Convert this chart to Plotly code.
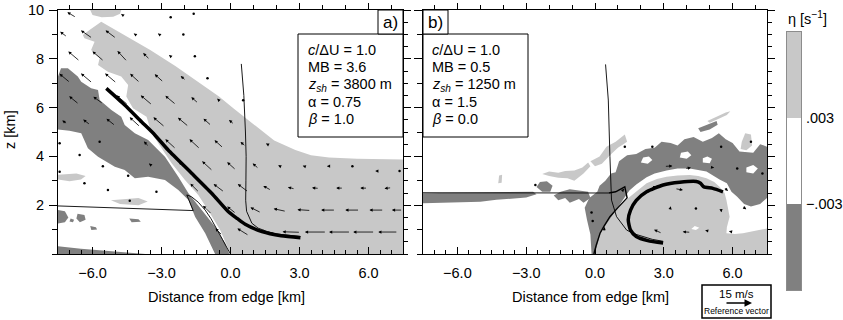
import plotly.graph_objects as go

W, H = 843, 320
LIGHT = "#c8c8c8"
DARK = "#808080"
FONT = "Liberation Sans, Arial, Helvetica, sans-serif"

# ---------------- axes / ticks ----------------
X_RANGE = [-7.5, 7.5]
Z_RANGE = [0, 10]
X_TICKS = [-6, -3, 0, 3, 6]
X_TICK_LABELS = ["\u22126.0", "\u22123.0", "0.0", "3.0", "6.0"]
Z_TICKS = [2, 4, 6, 8, 10]
Z_TICK_LABELS = ["2", "4", "6", "8", "10"]

PARAMS_A = ["<i>c</i>/\u0394U = 1.0", "MB = 3.6", "<i>z</i><sub><i>sh</i></sub> = 3800 m", "\u03b1 = 0.75", "<i>\u03b2</i> = 1.0"]
PARAMS_B = ["<i>c</i>/\u0394U = 1.0", "MB = 0.5", "<i>z</i><sub><i>sh</i></sub> = 1250 m", "\u03b1 = 1.5", "<i>\u03b2</i> = 0.0"]

# colorbar classes (eta thresholds)
CB_CLASS = [0, 1, 2]
CB_TICKS = [1, 2]
CB_TICK_LABELS = ["\u2212.003", ".003"]

# ---------------- panel a shading (km, km) ----------------
A_LIGHT_MAIN = [(-5.62, 9.52), (-4.6, 8.95), (-3.49, 8.36), (-2.4, 7.7), (-1.31, 6.99), (-0.5, 6.45),
                (0.15, 5.95), (0.75, 5.5), (1.35, 5.05), (1.9, 4.65), (2.82, 4.26), (3.5, 4.05),
                (4.28, 3.95), (5.5, 3.9), (7.5, 3.87), (7.5, 0), (0, 0), (-0.16, 0.37), (-0.45, 0.98),
                (-0.89, 1.67), (-1.40, 2.42), (-1.98, 3.03), (-2.56, 3.72), (-3.14, 4.54), (-3.45, 5.0),
                (-3.65, 5.63), (-4.24, 5.97), (-4.53, 6.45), (-4.45, 6.93), (-4.75, 7.27), (-5.33, 7.47),
                (-5.76, 7.75), (-5.69, 8.02), (-6.06, 8.36), (-5.91, 8.70), (-6.35, 8.84), (-6.42, 8.98),
                (-6.13, 9.18)]
A_LIGHT_TOP = [(-6.1, 10), (-6.0, 9.8), (-5.6, 9.7), (-5.1, 9.72), (-4.8, 9.85), (-4.75, 10)]
A_LIGHT_P1 = [(-7.5, 3.05), (-7.0, 2.98), (-6.5, 3.05), (-6.3, 3.2), (-6.7, 3.3), (-7.5, 3.25)]
A_LIGHT_P2 = [(-5.2, 2.2), (-4.8, 2.05), (-4.0, 2.0), (-3.6, 2.15), (-4.0, 2.3), (-4.8, 2.25)]
A_DARK_MAIN = [(-7.5, 7.27), (-7.37, 7.61), (-7.07, 7.61), (-6.64, 7.27), (-6.49, 7.06), (-6.06, 6.79),
               (-5.76, 6.72), (-5.69, 6.31), (-5.18, 5.9), (-4.75, 5.63), (-4.6, 5.29), (-4.16, 4.95),
               (-3.58, 4.67), (-2.85, 3.99), (-2.27, 3.17), (-1.83, 2.49), (-1.25, 1.80), (-0.67, 1.12),
               (-0.23, 0.44), (-0.05, 0), (-0.67, 0), (-1.10, 0.85), (-1.54, 1.53), (-1.83, 2.21),
               (-2.27, 2.62), (-2.85, 3.03), (-3.58, 3.17), (-4.16, 3.10), (-4.60, 3.44), (-5.03, 3.58),
               (-5.76, 3.99), (-6.20, 4.33), (-6.49, 4.95), (-7.0, 5.05), (-7.5, 5.1)]
A_DARK_BOTTOM = [(-7.5, 0), (-7.5, 0.32), (-6.5, 0.22), (-5.0, 0.1), (-3.7, 0)]
A_DARK_B1 = [(-7.5, 1.8), (-7.2, 1.75), (-7.05, 1.5), (-7.2, 1.3), (-7.5, 1.25)]
A_DARK_B2 = [(-6.65, 1.65), (-6.35, 1.6), (-6.3, 1.4), (-6.55, 1.3), (-6.7, 1.45)]
A_DARK_B3 = [(-4.4, 1.45), (-4.0, 1.42), (-3.9, 1.32), (-4.3, 1.3)]
A_DARK_B4 = [(-6.1, 1.15), (-5.85, 1.1), (-5.8, 1.0), (-6.05, 0.98)]
A_DARK_B5 = [(-6.95, 1.45), (-6.8, 1.4), (-6.85, 1.3), (-7.0, 1.33)]

# panel a lines
A_THICK = [(-5.40, 6.79), (-4.60, 6.11), (-3.87, 5.42), (-3.29, 4.88), (-2.71, 4.26), (-1.69, 3.31),
           (-0.82, 2.49), (-0.09, 1.73), (0.30, 1.45), (0.64, 1.22), (1.37, 0.92), (2.2, 0.75), (3.04, 0.67)]
A_THIN_V = [(0.47, 7.79), (0.58, 6.5), (0.65, 5.0), (0.68, 4.0), (0.67, 3.0), (0.66, 2.2), (0.7, 1.75),
            (0.8, 1.5), (0.93, 1.26), (1.2, 1.06), (1.6, 0.92), (2.0, 0.82), (2.5, 0.76), (3.04, 0.72)]
A_THIN_H = [(-7.5, 1.97), (-5.0, 1.9), (-3.0, 1.83), (-1.62, 1.78), (-1.9, 2.42), (-1.7, 2.35),
            (-1.4, 2.12), (-1.1, 1.8), (-0.85, 1.45), (-0.6, 1.05), (-0.35, 0.6), (-0.15, 0.25), (0.0, 0.0)]

# ---------------- panel b shading ----------------
B_LIGHT_DOME = [(0.0, 0), (0.05, 0.4), (0.22, 0.85), (0.5, 1.3), (0.80, 1.67), (1.15, 2.05), (1.52, 2.35),
                (1.9, 2.65), (2.25, 2.90), (2.7, 3.07), (3.12, 3.17), (3.6, 3.22), (4.13, 3.24), (4.5, 3.2),
                (4.86, 3.10), (5.2, 2.95), (5.43, 2.76), (5.65, 2.5), (5.73, 2.21), (5.87, 1.53),
                (5.75, 1.1), (5.73, 0.85), (6.1, 0.82), (6.45, 0.85), (7.0, 0.95), (7.5, 1.05), (7.5, 0)]
B_DARK_MAIN = [(-0.15, 0), (-0.2, 0.8), (-0.35, 1.4), (-0.45, 1.9), (-0.25, 2.3), (0.1, 2.55), (0.2, 2.8),
               (0.45, 3.0), (0.7, 3.3), (0.9, 3.35), (1.05, 3.8), (1.4, 4.05), (1.8, 4.1), (2.2, 4.3),
               (2.6, 4.35), (2.9, 4.6), (3.3, 4.55), (3.6, 4.45), (3.9, 4.7), (4.3, 4.8), (4.7, 4.6),
               (5.1, 4.75), (5.4, 4.95), (5.7, 4.7), (6.0, 4.55), (6.3, 4.2), (6.9, 4.15), (7.2, 4.5),
               (7.5, 4.4), (7.5, 2.3), (7.2, 2.05), (6.8, 1.95), (6.5, 2.05), (6.2, 2.35), (5.95, 2.55),
               (5.75, 2.9), (5.43, 3.05), (4.86, 3.38), (4.13, 3.5), (3.6, 3.5), (3.12, 3.42), (2.6, 3.3),
               (2.25, 3.15), (1.8, 2.85), (1.5, 2.6), (1.2, 2.2), (0.8, 1.67), (0.22, 0.85), (0.0, 0)]
B_DARK_BAND = [(-7.5, 2.49), (-2.7, 2.55), (-2.55, 2.45), (-3.0, 2.32), (-4.3, 2.22), (-5.0, 2.14), (-7.5, 2.08)]
B_DARK_B1 = [(-2.55, 2.75), (-2.4, 2.95), (-2.1, 2.98), (-1.85, 2.8), (-1.95, 2.55), (-2.3, 2.55)]
B_DARK_B2 = [(-1.8, 2.4), (-1.5, 2.55), (-1.1, 2.65), (-0.7, 2.6), (-0.3, 2.55), (-0.2, 2.3), (-0.5, 2.1),
             (-0.7, 2.25), (-1.1, 2.1), (-1.3, 2.3), (-1.6, 2.2)]
B_DARK_WISP = [(4.5, 5.15), (4.9, 5.3), (5.3, 5.45), (5.35, 5.3), (5.0, 5.1), (4.6, 5.0)]
B_WHITE_H1 = [(2.0, 3.75), (2.3, 3.7), (2.5, 3.85), (2.35, 4.0), (2.1, 3.95)]
B_WHITE_H2 = [(3.7, 3.95), (4.0, 3.9), (4.2, 4.05), (4.05, 4.2), (3.75, 4.15)]
B_WHITE_H3 = [(4.7, 3.75), (5.0, 3.72), (5.1, 3.9), (4.9, 4.0), (4.7, 3.92)]
B_WHITE_H4 = [(6.6, 3.35), (6.9, 3.3), (7.1, 3.5), (6.9, 3.65), (6.6, 3.55)]
B_WHITE_H5 = [(4.2, 1.02), (4.4, 0.98), (4.55, 1.08), (4.35, 1.15)]
B_LIGHT_P1 = [(-4.22, 2.9), (-4.07, 2.92), (-4.05, 3.25), (-4.18, 3.22)]
B_LIGHT_P2 = [(-2.3, 3.28), (-2.0, 3.38), (-1.6, 3.33), (-1.3, 3.4), (-0.9, 3.42), (-0.55, 3.55), (-0.3, 3.75),
              (-0.2, 3.6), (-0.5, 3.3), (-0.9, 3.0), (-1.2, 3.1), (-1.6, 3.12), (-2.0, 3.2)]
B_LIGHT_P3 = [(-0.2, 3.8), (0.2, 4.0), (0.5, 4.4), (0.9, 4.6), (1.3, 4.9), (1.4, 4.6), (1.0, 4.35),
              (0.65, 4.05), (0.3, 3.7), (0.0, 3.6)]
B_LIGHT_P4 = [(6.35, 4.3), (6.6, 4.25), (6.85, 4.45), (6.8, 4.9), (6.55, 4.95), (6.4, 4.6)]
B_LIGHT_P5 = [(4.9, 5.45), (5.3, 5.62), (5.7, 5.8), (5.9, 5.85), (5.75, 5.7), (5.3, 5.5), (5.0, 5.38)]

# panel b lines
B_THIN_H = [(-7.5, 2.51), (-3.0, 2.52), (0.0, 2.5), (0.6, 2.5)]
B_FRONT = [(0.6, 2.5), (0.9, 2.55), (1.3, 2.75), (1.4, 2.3), (1.0, 1.9), (0.65, 1.53), (0.4, 1.15),
           (0.22, 0.85), (0.05, 0.35), (-0.05, 0)]
B_THIN_V = [(0.46, 7.77), (0.58, 6.31), (0.65, 4.0), (0.72, 2.21), (0.94, 1.53), (1.38, 0.98), (1.7, 0.83),
            (2.10, 0.71), (2.5, 0.6), (2.97, 0.52)]
B_THICK = [(2.97, 0.45), (2.3, 0.55), (1.8, 0.72), (1.55, 0.98), (1.45, 1.4), (1.55, 1.8), (1.8, 2.2),
           (2.25, 2.55), (2.97, 2.83), (3.70, 2.94), (4.42, 2.97), (4.6, 2.9), (4.75, 2.75), (5.14, 2.69), (5.58, 2.55)]

# ---------------- wind vectors (x km, z km, u m/s, w m/s) ----------------
ARROW_A_X = [-0.5, 0.55, 1.6, 2.65, 3.7, 4.75, 5.8, 6.85,
             -1.0, 0.05, 1.1, 2.15, 3.2, 4.25, 5.3, 6.35, 7.25,
             -1.55, -0.5, 0.55, 1.6, 2.65, 3.7, 4.75, 5.8, 6.85,
             -2.05, -1.0, 0.05, 1.1, 2.15, 3.2, 4.25, 5.3, 6.35, 7.35,
             -3.65, -2.6, -1.55, -0.5, 0.55, 1.6,
             -7.2, -6.25, -5.2, -4.15, -3.1, -2.05, -1.0, 0.05,
             -6.8, -5.75, -4.7, -3.65, -2.6, -1.55, -0.5, 0.55,
             -7.2, -6.25, -5.2, -4.15, -3.1, -2.05, -1.0,
             -6.8, -5.75, -4.7, -3.65, -2.6, -1.55,
             -7.25, -6.25, -5.2, -4.15, -3.1, -2.05,
             -6.9, -4.7, -2.6, -1.6,
             -7.43, -5.69, -6.56, -5.55, -4.45, -7.43, -6.35, -5.33, -4.38, -3.22, -3.47, -5.1]
ARROW_A_Z = [0.9, 0.9, 0.9, 0.9, 0.9, 0.9, 0.9, 0.9,
             1.8, 1.8, 1.8, 1.8, 1.8, 1.8, 1.8, 1.8, 1.8,
             2.7, 2.7, 2.7, 2.7, 2.7, 2.7, 2.7, 2.7, 2.7,
             3.6, 3.6, 3.6, 3.6, 3.6, 3.6, 3.6, 3.6, 3.4, 3.4,
             4.5, 4.5, 4.5, 4.5, 4.5, 4.5,
             5.4, 5.4, 5.4, 5.4, 5.4, 5.4, 5.4, 5.4,
             6.3, 6.3, 6.3, 6.3, 6.3, 6.3, 6.3, 6.3,
             7.2, 7.2, 7.2, 7.2, 7.2, 7.2, 7.2,
             8.1, 8.1, 8.1, 8.1, 8.1, 8.1,
             9.0, 9.0, 9.0, 9.0, 9.0, 9.0,
             9.8, 9.8, 9.7, 9.85,
             4.54, 4.6, 4.06, 3.6, 3.21, 3.37, 2.9, 2.62, 2.18, 2.55, 3.65, 4.55]
ARROW_A_U = [-4, -6.5, -8, -10, -12, -12, -12, -11,
             -5, -5, -6, -7, -7.5, -8, -8, -8, -6,
             -5, -6, -6, -4.5, -4, -4, -4, -4, -4,
             -5, -6, -5, -3.5, -2, -1.5, -1.5, 0, -1.5, 0,
             -3, -6, -6, -5, -3, -1.5,
             -3, -4, -5, -6, -6.5, -6, -4.5, -3,
             -5.5, -5.5, -6.5, -6.5, -6, -4, -2, 0,
             -6, -6.5, -6.5, -5.5, -5, -3, 0,
             -6.5, -6.5, -5.5, -3.8, -2, 0,
             -4, -6.5, -6, -1.5, -1.5, 0,
             -5, -1.5, 0, 0,
             0, 0, 0, 0, 0, 0, 0, 0, 0, 0, -2, -1]
ARROW_A_W = [4, 4, 1.5, 0.3, 0, 0, 0, 0,
             5, 4, 3, 1.5, 0.5, 0, 0, 0, 0,
             5, 4.5, 4.5, 2.5, 1, 0.3, 0, 0, -0.5,
             5, 5.5, 4.5, 3, 1, 0.5, 0, 0, 0, 0,
             3, 5.5, 5.5, 4.5, 2.5, 0.8,
             2, 3, 4, 5.5, 5.5, 5, 4, 2.5,
             4.5, 4, 5.5, 5.5, 5, 3.5, 2, 0,
             5, 5.5, 5.5, 5, 4.5, 2.5, 0,
             5.5, 5.5, 6, 3.7, 1.5, 0,
             3, 4.5, 4.5, 1, 1, 0,
             3, 1, 0, 0,
             0, 0, 0, 0, 0, 0, 0, 0, 0, 0, 1.5, 1]

ARROW_B_X = [0.4, 2.75, 4.0, 4.9, 5.9,
             3.29, 4.4, 5.5, 6.5,
             1.2, 2.5, 3.66, 5.7,
             3.2, 4.05, 5.1, 6.2, 7.3,
             1.3, 2.5, 5.5, -2.6, -0.15, -0.1, 6.8]
ARROW_B_Z = [1.0, 0.92, 0.9, 0.95, 0.92,
             1.9, 1.86, 1.8, 1.9,
             2.6, 2.7, 2.65, 2.67,
             3.6, 3.52, 3.55, 3.5, 3.3,
             4.4, 4.4, 4.4, 2.83, 1.7, 1.35, 4.6]
ARROW_B_U = [0.5, -4.5, -4.5, -2.5, -1.5,
             0.3, 0, 0.3, 2.5,
             2, 4.5, 4.5, 2.5,
             4.5, 3.5, 2.5, 0, 0,
             0, 0, 0, 0, 0, 0, 0]
ARROW_B_W = [3, 2, 0.3, 0.5, 0.3,
             1.5, 0, -2.5, -1.8,
             2, 2.3, -0.8, -2.5,
             0.3, 0.5, -0.3, 0, 0,
             0, 0, 0, 0, 0, 0, 0]

REF_SPEED = 15  # m/s
SX = 0.0775    # km of x per m/s
SZ = 0.073     # km of z per m/s


def px(x):
    return x / W


def py(y):
    return 1 - y / H


fig = go.Figure()


def poly(pts, color, xa, ya):
    xs = [p[0] for p in pts] + [pts[0][0]]
    zs = [p[1] for p in pts] + [pts[0][1]]
    fig.add_trace(go.Scatter(x=xs, y=zs, mode="lines", fill="toself", fillcolor=color,
                             line=dict(width=0, color=color), hoverinfo="skip",
                             showlegend=False, xaxis=xa, yaxis=ya))


def line(pts, width, xa, ya, smooth=True):
    ln = dict(width=width, color="black")
    if smooth:
        ln.update(shape="spline", smoothing=0.6)
    fig.add_trace(go.Scatter(x=[p[0] for p in pts], y=[p[1] for p in pts], mode="lines", line=ln,
                             hoverinfo="skip", showlegend=False, xaxis=xa, yaxis=ya))


# panel a
for pts, col in [(A_LIGHT_MAIN, LIGHT), (A_LIGHT_TOP, LIGHT), (A_LIGHT_P1, LIGHT), (A_LIGHT_P2, LIGHT),
                 (A_DARK_MAIN, DARK), (A_DARK_BOTTOM, DARK), (A_DARK_B1, DARK), (A_DARK_B2, DARK),
                 (A_DARK_B3, DARK), (A_DARK_B4, DARK), (A_DARK_B5, DARK)]:
    poly(pts, col, "x", "y")
line(A_THIN_H, 0.9, "x", "y", smooth=False)
line(A_THIN_V, 0.9, "x", "y", smooth=False)
line(A_THICK, 3.5, "x", "y")

# panel b
for pts, col in [(B_LIGHT_DOME, LIGHT), (B_DARK_MAIN, DARK), (B_DARK_BAND, DARK), (B_DARK_B1, DARK),
                 (B_DARK_B2, DARK), (B_DARK_WISP, DARK), (B_WHITE_H1, "white"), (B_WHITE_H2, "white"),
                 (B_WHITE_H3, "white"), (B_WHITE_H4, "white"), (B_WHITE_H5, "white"),
                 (B_LIGHT_P1, LIGHT), (B_LIGHT_P2, LIGHT), (B_LIGHT_P3, LIGHT), (B_LIGHT_P4, LIGHT),
                 (B_LIGHT_P5, LIGHT)]:
    poly(pts, col, "x2", "y2")
line(B_THIN_H, 0.9, "x2", "y2", smooth=False)
line(B_THIN_V, 0.9, "x2", "y2", smooth=False)
line(B_FRONT, 1.4, "x2", "y2", smooth=False)
line(B_THICK, 3.5, "x2", "y2")

annotations = []


def arrows(xs, zs, us, ws, xa, ya):
    dx, dz = [], []
    for x, z, u, w in zip(xs, zs, us, ws):
        if u == 0 and w == 0:
            dx.append(x)
            dz.append(z)
            continue
        annotations.append(dict(x=x + u * SX / 2, y=z + w * SZ / 2, ax=x - u * SX / 2, ay=z - w * SZ / 2,
                                xref=xa, yref=ya, axref=xa, ayref=ya, text="", showarrow=True,
                                arrowhead=2, arrowsize=0.8, arrowwidth=0.8, arrowcolor="black"))
    fig.add_trace(go.Scatter(x=dx, y=dz, mode="markers", marker=dict(size=2.5, color="black"),
                             hoverinfo="skip", showlegend=False, xaxis=xa, yaxis=ya))


arrows(ARROW_A_X, ARROW_A_Z, ARROW_A_U, ARROW_A_W, "x", "y")
arrows(ARROW_B_X, ARROW_B_Z, ARROW_B_U, ARROW_B_W, "x2", "y2")

# dummy traces for overlay axes (top / right ticks)
for xa, ya in [("x3", "y"), ("x", "y3"), ("x4", "y2"), ("x2", "y4")]:
    fig.add_trace(go.Scatter(x=[None], y=[None], mode="markers", showlegend=False, hoverinfo="skip",
                             xaxis=xa, yaxis=ya))

# colorbar as heatmap
fig.add_trace(go.Heatmap(z=[[c] for c in CB_CLASS], x=[0], y=[0.5, 1.5, 2.5], zmin=0, zmax=2,
                         colorscale=[[0, DARK], [0.333, DARK], [0.334, "white"], [0.666, "white"],
                                     [0.667, LIGHT], [1, LIGHT]],
                         showscale=False, hoverinfo="skip", xaxis="x5", yaxis="y5"))

tickfont = dict(size=14.5, color="black", family=FONT)
YDOM = [py(254), py(10)]
XDOM_A = [px(58), px(403)]
XDOM_B = [px(423), px(767)]


def main_x(dom, anchor):
    return dict(domain=dom, anchor=anchor, range=X_RANGE, tickmode="array", tickvals=X_TICKS,
                ticktext=X_TICK_LABELS, ticks="inside", ticklen=7, tickwidth=1, tickcolor="black",
                minor=dict(tickmode="linear", tick0=0, dtick=0.5, ticks="inside", ticklen=4,
                           tickcolor="black", showgrid=False),
                showline=True, linecolor="black", linewidth=1, mirror=True, showgrid=False,
                zeroline=False, tickfont=tickfont, fixedrange=True, ticklabelstandoff=6,
                automargin=False)


def main_y(anchor, labels):
    return dict(domain=YDOM, anchor=anchor, range=Z_RANGE, tickmode="array", tickvals=Z_TICKS,
                ticktext=Z_TICK_LABELS, showticklabels=labels, ticks="outside", ticklen=8,
                tickcolor="black", minor=dict(tickmode="linear", tick0=0, dtick=1, ticks="outside",
                                             ticklen=5, tickcolor="black", showgrid=False),
                showline=True, linecolor="black", linewidth=1, mirror=True, showgrid=False,
                zeroline=False, tickfont=tickfont, fixedrange=True, ticklabelstandoff=2,
                automargin=False)


def top_x(over, anchor):
    return dict(overlaying=over, anchor=anchor, side="top", range=X_RANGE, tickmode="array",
                tickvals=X_TICKS, ticks="outside", ticklen=6, tickcolor="black", showticklabels=False,
                minor=dict(tickmode="linear", tick0=0, dtick=1, ticks="outside", ticklen=4,
                           tickcolor="black", showgrid=False),
                showgrid=False, zeroline=False, showline=False, fixedrange=True, automargin=False)


def right_y(over, anchor):
    return dict(overlaying=over, anchor=anchor, side="right", range=Z_RANGE, tickmode="array",
                tickvals=Z_TICKS, ticks="outside", ticklen=7, tickcolor="black", showticklabels=False,
                minor=dict(tickmode="linear", tick0=0, dtick=0.5, ticks="outside", ticklen=4,
                           tickcolor="black", showgrid=False),
                showgrid=False, zeroline=False, showline=False, fixedrange=True, automargin=False)


shapes = []


def rect(x0, y0, x1, y1, lw=1):
    shapes.append(dict(type="rect", xref="paper", yref="paper", x0=px(x0), x1=px(x1), y0=py(y1), y1=py(y0),
                       line=dict(color="black", width=lw), fillcolor="white", layer="above"))


rect(298, 34, 403, 137)
rect(378, 10, 403, 34)
rect(423, 34, 528, 137)
rect(423, 10, 448, 34)
rect(702, 285, 771, 318, 1.5)


def text(x, y, s, size=14.5, xanchor="left", angle=0):
    annotations.append(dict(x=px(x), y=py(y), xref="paper", yref="paper", text=s, showarrow=False,
                            xanchor=xanchor, yanchor="middle", textangle=angle,
                            font=dict(size=size, color="black", family=FONT)))


for i, (ta, tb) in enumerate(zip(PARAMS_A, PARAMS_B)):
    yy = [50, 67, 85, 102, 119][i]
    text(306, yy, ta)
    text(430, yy, tb)
text(390.5, 22.5, "a)", size=17, xanchor="center")
text(435.5, 22.5, "b)", size=17, xanchor="center")
text(226, 297, "Distance from edge [km]", xanchor="center")
text(590, 297, "Distance from edge [km]", xanchor="center")
text(10, 130, "z [km]", xanchor="center", angle=-90)
text(807, 18, "\u03b7 [s<sup>\u22121</sup>]", xanchor="center")
text(736, 294, "%d m/s" % REF_SPEED, size=11.5, xanchor="center")
text(736, 311, "Reference vector", size=8.5, xanchor="center")
annotations.append(dict(x=px(752), y=py(303), xref="paper", yref="paper", ax=-27, ay=0, text="",
                        showarrow=True, arrowhead=2, arrowsize=1, arrowwidth=1.5, arrowcolor="black"))

fig.update_layout(
    width=W, height=H, margin=dict(l=0, r=0, t=0, b=0, autoexpand=False),
    paper_bgcolor="white", plot_bgcolor="white", showlegend=False,
    xaxis=main_x(XDOM_A, "y"), yaxis=main_y("x", True),
    xaxis2=main_x(XDOM_B, "y2"), yaxis2=dict(main_y("x2", False)),
    xaxis3=top_x("x", "y"), yaxis3=right_y("y", "x"),
    xaxis4=top_x("x2", "y2"), yaxis4=right_y("y2", "x2"),
    xaxis5=dict(domain=[px(787), px(801)], anchor="y5", range=[-0.5, 0.5], showticklabels=False,
                ticks="", showgrid=False, zeroline=False, showline=True, mirror=True,
                linecolor="#8c8c8c", linewidth=1, fixedrange=True, automargin=False),
    yaxis5=dict(domain=[py(290), py(32)], anchor="x5", side="right", range=[0, 3], tickmode="array",
                tickvals=CB_TICKS, ticktext=CB_TICK_LABELS, ticks="", showgrid=False, zeroline=False,
                showline=True, mirror=True, linecolor="#8c8c8c", linewidth=1, tickfont=tickfont,
                fixedrange=True, ticklabelstandoff=1, automargin=False),
    shapes=shapes, annotations=annotations,
)

fig.write_html("out.html", config={"displayModeBar": False, "staticPlot": True},
               post_script="document.body.style.margin='0';document.body.style.padding='0';")
